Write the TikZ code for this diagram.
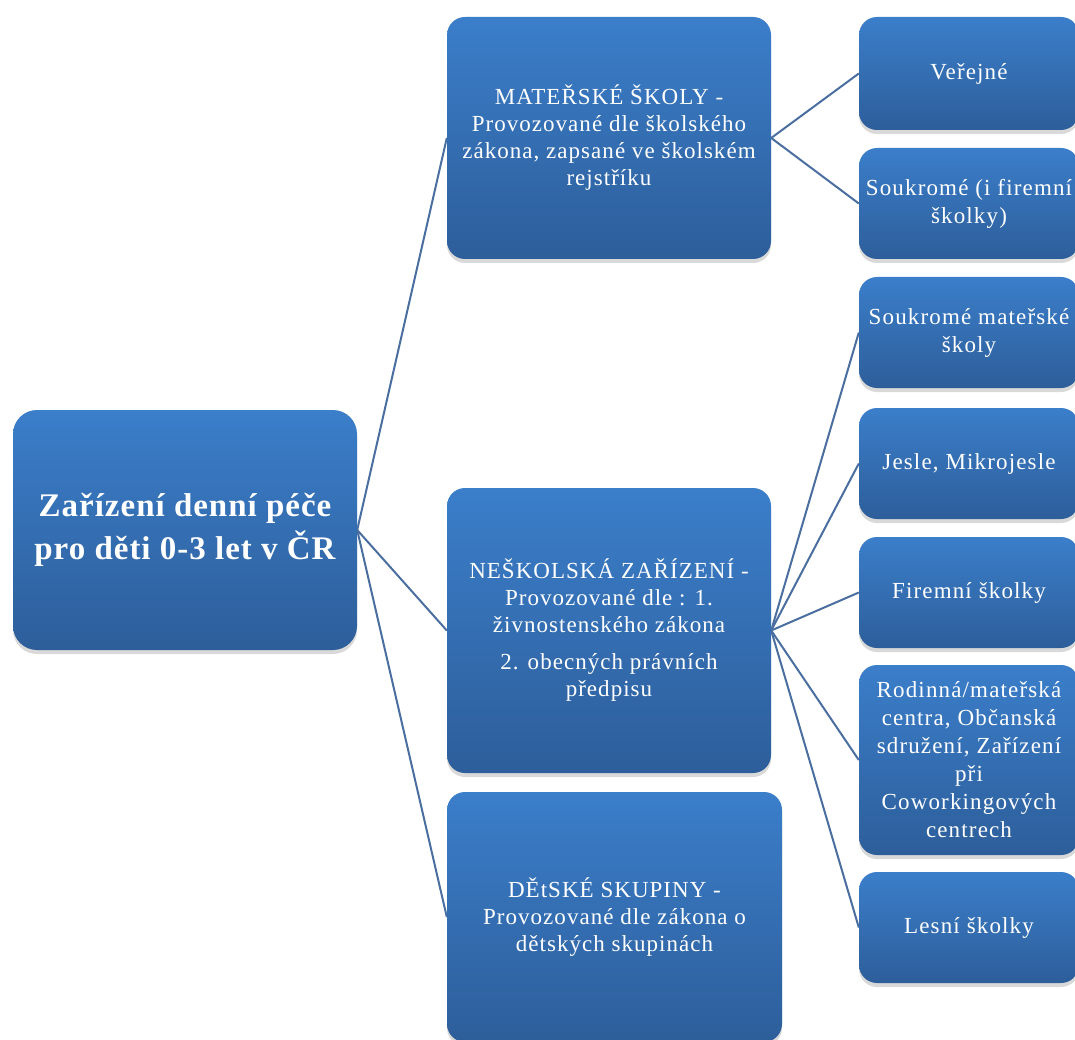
\documentclass[tikz,border=0pt]{standalone}
\usepackage{fontspec}
\setmainfont{Liberation Serif}
\newfontfamily\midfam[LetterSpace=4.5]{Liberation Serif}
\newfontfamily\leaffam[LetterSpace=5]{Liberation Serif}
\newfontfamily\rootfam[LetterSpace=3]{Liberation Serif}
\usetikzlibrary{shadows,backgrounds}
\definecolor{boxtop}{RGB}{59,126,202}
\definecolor{boxbot}{RGB}{45,94,154}
\definecolor{linkc}{RGB}{74,110,160}
\tikzset{
  box/.style={rectangle, rounded corners=18pt, top color=boxtop, bottom color=boxbot,
    draw=none, text=white, align=center, inner sep=0pt,
    drop shadow={opacity=0.3, shadow xshift=0pt, shadow yshift=-4pt}},
  rootfont/.style={font=\rootfam\fontsize{33}{43}\selectfont\bfseries},
  midfont/.style={font=\midfam\fontsize{23}{27}\selectfont},
  leaffont/.style={font=\leaffam\fontsize{23}{28}\selectfont},
  link/.style={draw=linkc, line width=2pt}
}
\begin{document}
\begin{tikzpicture}[x=1pt,y=-1pt]
\useasboundingbox (0,0) rectangle (1075,1040);
\clip (0,0) rectangle (1075,1040);
\node[box, rootfont, rounded corners=24pt, minimum width=344pt, minimum height=240pt] (root) at (185,530)
  {Zařízení denní péče\\pro děti 0-3 let v ČR};
\node[box, midfont, minimum width=324pt, minimum height=242pt] (ms) at (609,138)
  {MATEŘSKÉ ŠKOLY -\\Provozované dle školského\\zákona, zapsané ve školském\\rejstříku};
\node[box, midfont, minimum width=324pt, minimum height=285pt] (ns) at (609,630.5)
  {NEŠKOLSKÁ ZAŘÍZENÍ -\\Provozované dle : 1.\\živnostenského zákona\\[10pt]2. obecných právních\\předpisu};
\node[box, midfont, minimum width=335pt, minimum height=250pt] (ds) at (614.5,917)
  {DĚtSKÉ SKUPINY -\\Provozované dle zákona o\\dětských skupinách};
\node[box, leaffont, minimum width=220pt, minimum height=113pt] (l1) at (969,73.5) {Veřejné};
\node[box, leaffont, minimum width=220pt, minimum height=111pt] (l2) at (969,203.5) {Soukromé (i firemní\\školky)};
\node[box, leaffont, minimum width=220pt, minimum height=111pt] (l3) at (969,332.5) {Soukromé mateřské\\školy};
\node[box, leaffont, minimum width=220pt, minimum height=111pt] (l4) at (969,463.5) {Jesle, Mikrojesle};
\node[box, leaffont, minimum width=220pt, minimum height=111pt] (l5) at (969,592.5) {Firemní školky};
\node[box, leaffont, minimum width=220pt, minimum height=190pt] (l6) at (969,760)
  {Rodinná/mateřská\\centra, Občanská\\sdružení, Zařízení\\při\\Coworkingových\\centrech};
\node[box, leaffont, minimum width=220pt, minimum height=111pt] (l7) at (969,927.5) {Lesní školky};
\begin{scope}[on background layer]
\draw[link] (root.east) -- (ms.west);
\draw[link] (root.east) -- (ns.west);
\draw[link] (root.east) -- (ds.west);
\draw[link] (ms.east) -- (l1.west);
\draw[link] (ms.east) -- (l2.west);
\draw[link] (ns.east) -- (l3.west);
\draw[link] (ns.east) -- (l4.west);
\draw[link] (ns.east) -- (l5.west);
\draw[link] (ns.east) -- (l6.west);
\draw[link] (ns.east) -- (l7.west);
\end{scope}
\end{tikzpicture}
\end{document}
